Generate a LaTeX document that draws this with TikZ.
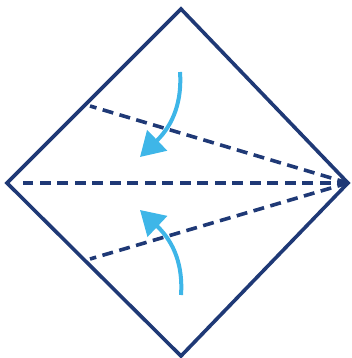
\documentclass[tikz,border=0pt]{standalone}
\usetikzlibrary{arrows.meta}
\definecolor{navy}{RGB}{31,57,118}
\definecolor{skyblue}{RGB}{62,182,232}

\begin{document}
\begin{tikzpicture}[
    x=1pt, y=-1pt,
    edge/.style={draw=navy, line width=3.6pt, line join=miter},
    fold/.style={draw=navy, line width=3.6pt, dash pattern=on 11pt off 6.5pt},
    flip/.style={draw=skyblue, line width=4pt,
        -{Triangle[length=24pt, width=28pt]}}
]
\useasboundingbox (0,0) rectangle (351,358);

% Square paper turned on its corner
\coordinate (top) at (181,9);
\coordinate (left) at (7,183);
\coordinate (bottom) at (181,356);
\coordinate (right) at (348,183);
\draw[edge] (top) -- (left) -- (bottom) -- (right) -- cycle;

% Fold lines
\coordinate (upfold) at (90,106);
\coordinate (midfold) at (23,183);
\coordinate (lowfold) at (90,259);
\draw[fold] (right) -- (upfold);
\draw[fold] (right) -- (midfold);
\draw[fold] (right) -- (lowfold);

% Folding arrows
\coordinate (upstart) at (180,72);
\coordinate (uptip) at (140,157);
\coordinate (lowstart) at (181,295);
\coordinate (lowtip) at (140,210);
\draw[flip] (upstart) .. controls (182,100) and (174,124) .. (uptip);
\draw[flip] (lowstart) .. controls (183,267) and (175,243) .. (lowtip);

\end{tikzpicture}
\end{document}
